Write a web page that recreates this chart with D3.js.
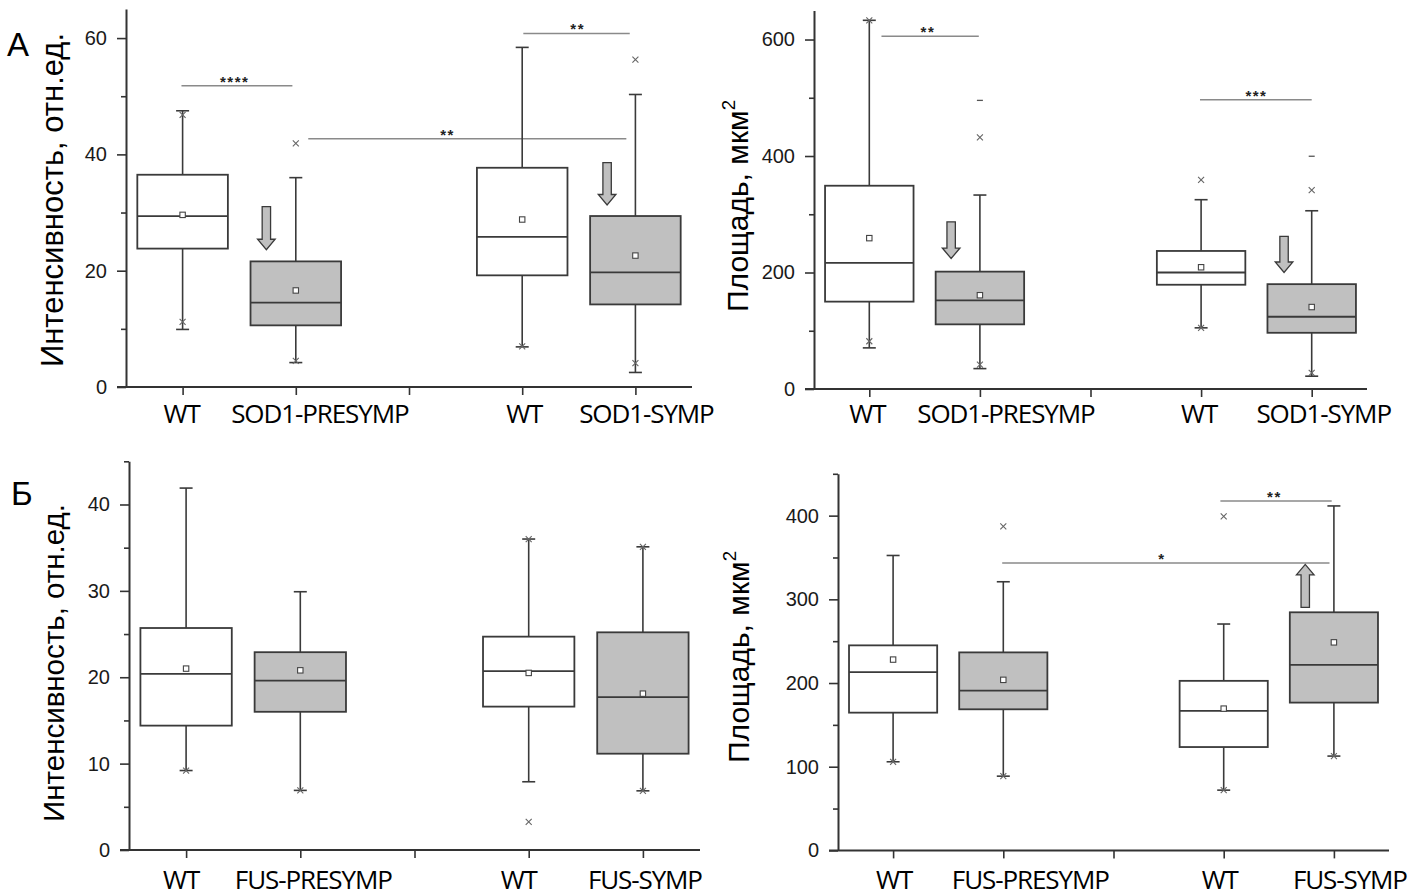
<!DOCTYPE html>
<html><head><meta charset="utf-8">
<script src="https://cdn.jsdelivr.net/npm/d3@7"></script>
<style>body{margin:0;background:#fff;} svg{display:block}</style>
</head><body>
<svg id="chart" width="1423" height="896"></svg>
<script>
// ---------- data ----------
const categoriesSOD = ["WT", "SOD1-PRESYMP", "WT", "SOD1-SYMP"];
const categoriesFUS = ["WT", "FUS-PRESYMP", "WT", "FUS-SYMP"];
const groupPositions = [1, 2, 4, 5];
const groupFill = ["wt", "mut", "wt", "mut"];

// A left: intensity, SOD1
const sodIntQ1 = [23.8, 10.6, 19.2, 14.2];
const sodIntMedian = [29.4, 14.5, 25.8, 19.7];
const sodIntQ3 = [36.5, 21.6, 37.7, 29.4];
const sodIntLow = [9.9, 4.2, 6.9, 2.5];
const sodIntHigh = [47.5, 36.0, 58.4, 50.3];
const sodIntMean = [29.6, 16.6, 28.8, 22.6];
const sodIntCrosses = [[46.8, 11.2], [41.9, 4.5], [7.0], [56.3, 4.1]];
const sodIntDashes = [[], [], [], []];
const sodIntTicks = [0, 20, 40, 60];
const sodIntMinor = [10, 30, 50];
const sodIntMax = 65;
const sodIntSig = [
  {from: 0.99, to: 1.97, value: 51.8, text: "****", at: 1.46},
  {from: 2.11, to: 4.92, value: 42.7, text: "**", at: 3.34},
  {from: 4.01, to: 4.95, value: 60.8, text: "**", at: 4.49}
];
const sodIntArrows = [
  {pos: 1.74, from: 31.0, to: 23.6},
  {pos: 4.75, from: 38.6, to: 31.3}
];

// A right: area, SOD1
const sodAreaQ1 = [150, 111, 179, 96.5];
const sodAreaMedian = [216.5, 152, 200, 124];
const sodAreaQ3 = [349, 201.5, 237, 180];
const sodAreaLow = [70.6, 35, 105, 22];
const sodAreaHigh = [633, 333, 325, 306];
const sodAreaMean = [259, 161, 209, 140.7];
const sodAreaCrosses = [[633, 82], [432, 42], [359, 105], [341.6, 27.6]];
const sodAreaDashes = [[], [495.5], [], [399.6]];
const sodAreaTicks = [0, 200, 400, 600];
const sodAreaMinor = [100, 300, 500];
const sodAreaMax = 650;
const sodAreaSig = [
  {from: 1.11, to: 1.99, value: 605.8, text: "**", at: 1.53},
  {from: 3.99, to: 5.0, value: 496.7, text: "***", at: 4.5}
];
const sodAreaArrows = [
  {pos: 1.74, from: 287, to: 224},
  {pos: 4.75, from: 262, to: 200}
];

// Б left: intensity, FUS
const fusIntQ1 = [14.4, 16.0, 16.6, 11.15];
const fusIntMedian = [20.4, 19.6, 20.7, 17.7];
const fusIntQ3 = [25.7, 22.9, 24.7, 25.2];
const fusIntLow = [9.2, 6.9, 7.9, 6.85];
const fusIntHigh = [41.9, 29.9, 36.0, 35.1];
const fusIntMean = [21.0, 20.8, 20.5, 18.1];
const fusIntCrosses = [[9.2], [6.9], [36.0, 3.25], [35.1, 6.85]];
const fusIntDashes = [[], [], [], []];
const fusIntTicks = [0, 10, 20, 30, 40];
const fusIntMinor = [5, 15, 25, 35, 45];
const fusIntMax = 45;
const fusIntSig = [];
const fusIntArrows = [];

// Б right: area, FUS
const fusAreaQ1 = [164.6, 168.6, 123.5, 176.6];
const fusAreaMedian = [213, 191, 166.6, 221.8];
const fusAreaQ3 = [245, 236.6, 202.6, 284.5];
const fusAreaLow = [105.9, 88.7, 72, 112.7];
const fusAreaHigh = [352.4, 321, 270.5, 411.6];
const fusAreaMean = [228, 203.8, 169.4, 248.6];
const fusAreaCrosses = [[105.9], [387.2, 88.7], [399.2, 72], [112.7]];
const fusAreaDashes = [[], [], [], []];
const fusAreaTicks = [0, 100, 200, 300, 400];
const fusAreaMinor = [50, 150, 250, 350, 450];
const fusAreaMax = 450;
const fusAreaSig = [
  {from: 3.97, to: 4.98, value: 417.6, text: "**", at: 4.46},
  {from: 1.99, to: 4.96, value: 343.3, text: "*", at: 3.44}
];
const fusAreaArrows = [
  {pos: 4.74, from: 290.5, to: 341.7}
];

// ---------- layout / style ----------
const svg = d3.select("#chart");
const AXIS = "#333";
const BOXSTROKE = "#3a3a3a";
const GRAY = "#c0c0c0";

const panels = [
  {
    letter: "А", letterX: 7, letterY: 56,
    px: {x0: 126, x1: 692, yb: 387, yt: 9},
    cats: categoriesSOD, labelDx: [-1, 24, 2, 11], labelY: 423,
    q1: sodIntQ1, med: sodIntMedian, q3: sodIntQ3, lo: sodIntLow, hi: sodIntHigh,
    mean: sodIntMean, crosses: sodIntCrosses, dashes: sodIntDashes,
    ticks: sodIntTicks, minor: sodIntMinor, max: sodIntMax,
    sig: sodIntSig, arrows: sodIntArrows,
    yLabel: "Интенсивность, отн.ед.", sup: null, yLabelX: 63, yLabelY: 200, yLabelSize: 31
  },
  {
    px: {x0: 814, x1: 1367, yb: 389, yt: 10.4},
    cats: categoriesSOD, labelDx: [-2, 26, -2, 12], labelY: 423,
    q1: sodAreaQ1, med: sodAreaMedian, q3: sodAreaQ3, lo: sodAreaLow, hi: sodAreaHigh,
    mean: sodAreaMean, crosses: sodAreaCrosses, dashes: sodAreaDashes,
    ticks: sodAreaTicks, minor: sodAreaMinor, max: sodAreaMax,
    sig: sodAreaSig, arrows: sodAreaArrows,
    yLabel: "Площадь, мкм", sup: "2", yLabelX: 748, yLabelY: 206, yLabelSize: 30
  },
  {
    letter: "Б", letterX: 11, letterY: 505,
    px: {x0: 129, x1: 700, yb: 850, yt: 461.3},
    cats: categoriesFUS, labelDx: [-5, 13, -10, 2], labelY: 889,
    q1: fusIntQ1, med: fusIntMedian, q3: fusIntQ3, lo: fusIntLow, hi: fusIntHigh,
    mean: fusIntMean, crosses: fusIntCrosses, dashes: fusIntDashes,
    ticks: fusIntTicks, minor: fusIntMinor, max: fusIntMax,
    sig: fusIntSig, arrows: fusIntArrows,
    yLabel: "Интенсивность, отн.ед.", sup: null, yLabelX: 64, yLabelY: 663, yLabelSize: 29.5
  },
  {
    px: {x0: 838, x1: 1389, yb: 850.4, yt: 473.8},
    cats: categoriesFUS, labelDx: [1, 27, -4, 16], labelY: 889,
    q1: fusAreaQ1, med: fusAreaMedian, q3: fusAreaQ3, lo: fusAreaLow, hi: fusAreaHigh,
    mean: fusAreaMean, crosses: fusAreaCrosses, dashes: fusAreaDashes,
    ticks: fusAreaTicks, minor: fusAreaMinor, max: fusAreaMax,
    sig: fusAreaSig, arrows: fusAreaArrows,
    yLabel: "Площадь, мкм", sup: "2", yLabelX: 749, yLabelY: 657, yLabelSize: 30
  }
];

function drawPanel(p) {
  const x = d3.scaleLinear().domain([0.5, 5.5]).range([p.px.x0, p.px.x1]);
  const y = d3.scaleLinear().domain([0, p.max]).range([p.px.yb, p.px.yt]);
  const g = svg.append("g");
  const boxW = (x(1.4) - x(1));
  const capW = 6.5;

  // y axis major
  const ya = g.append("g").attr("transform", `translate(${x(0.5)},0)`)
    .call(d3.axisLeft(y).tickValues(p.ticks).tickSize(9).tickSizeOuter(0).tickPadding(10).tickFormat(d3.format("d")));
  ya.select(".domain").attr("stroke", AXIS).attr("stroke-width", 2);
  ya.selectAll(".tick line").attr("stroke", AXIS).attr("stroke-width", 1.6);
  ya.selectAll(".tick text").attr("font-family", "Liberation Sans, Arial, sans-serif")
    .attr("font-size", 20).attr("fill", "#1a1a1a");
  // minor ticks
  const ym = g.append("g").attr("transform", `translate(${x(0.5)},0)`)
    .call(d3.axisLeft(y).tickValues(p.minor).tickSize(5).tickSizeOuter(0).tickFormat(""));
  ym.select(".domain").remove();
  ym.selectAll(".tick line").attr("stroke", AXIS).attr("stroke-width", 1.6);

  // x axis
  const xa = g.append("g").attr("transform", `translate(0,${y(0)})`)
    .call(d3.axisBottom(x).tickValues([1, 2, 3, 4, 5]).tickSize(8).tickSizeOuter(0).tickFormat(""));
  xa.select(".domain").remove();
  xa.selectAll(".tick line").attr("stroke", AXIS).attr("stroke-width", 1.6);
  g.append("line").attr("x1", x(0.5) - 9).attr("x2", x(5.5))
    .attr("y1", y(0)).attr("y2", y(0)).attr("stroke", AXIS).attr("stroke-width", 2);

  // category labels
  g.selectAll("text.cat").data(p.cats).join("text").attr("class", "cat")
    .attr("x", (d, i) => x(groupPositions[i]) + p.labelDx[i])
    .attr("y", p.labelY)
    .attr("text-anchor", "middle")
    .attr("font-family", "Open Sans, sans-serif")
    .attr("font-size", 26)
    .attr("font-weight", 500)
    .attr("letter-spacing", -1.1)
    .attr("fill", "#000")
    .text(d => d);

  // significance lines
  p.sig.forEach(s => {
    g.append("line").attr("x1", x(s.from)).attr("x2", x(s.to))
      .attr("y1", y(s.value)).attr("y2", y(s.value))
      .attr("stroke", "#8a8a8a").attr("stroke-width", 1.5);
    g.append("text").attr("x", x(s.at)).attr("y", y(s.value) + 1)
      .attr("text-anchor", "middle").attr("font-family", "Liberation Sans, Arial, sans-serif")
      .attr("font-weight", "bold").attr("font-size", 15).attr("letter-spacing", 1.5)
      .attr("fill", "#222").text(s.text);
  });

  // boxes
  groupPositions.forEach((pos, i) => {
    const cx = x(pos);
    g.append("line").attr("x1", cx).attr("x2", cx).attr("y1", y(p.hi[i])).attr("y2", y(p.q3[i]))
      .attr("stroke", BOXSTROKE).attr("stroke-width", 1.6);
    g.append("line").attr("x1", cx).attr("x2", cx).attr("y1", y(p.q1[i])).attr("y2", y(p.lo[i]))
      .attr("stroke", BOXSTROKE).attr("stroke-width", 1.6);
    [p.hi[i], p.lo[i]].forEach(v => {
      g.append("line").attr("x1", cx - capW).attr("x2", cx + capW).attr("y1", y(v)).attr("y2", y(v))
        .attr("stroke", BOXSTROKE).attr("stroke-width", 1.6);
    });
    g.append("rect").attr("x", cx - boxW).attr("width", 2 * boxW)
      .attr("y", y(p.q3[i])).attr("height", y(p.q1[i]) - y(p.q3[i]))
      .attr("fill", groupFill[i] === "wt" ? "#fff" : GRAY)
      .attr("stroke", BOXSTROKE).attr("stroke-width", 1.8);
    g.append("line").attr("x1", cx - boxW).attr("x2", cx + boxW)
      .attr("y1", y(p.med[i])).attr("y2", y(p.med[i]))
      .attr("stroke", BOXSTROKE).attr("stroke-width", 1.8);
    g.append("rect").attr("x", cx - 2.7).attr("y", y(p.mean[i]) - 2.7)
      .attr("width", 5.4).attr("height", 5.4)
      .attr("fill", "#fff").attr("stroke", "#444").attr("stroke-width", 1.1);
    p.crosses[i].forEach(v => {
      const yy = y(v), r = 3;
      g.append("path").attr("d", `M${cx - r},${yy - r}L${cx + r},${yy + r}M${cx - r},${yy + r}L${cx + r},${yy - r}`)
        .attr("stroke", "#666").attr("stroke-width", 1.1).attr("fill", "none");
    });
    p.dashes[i].forEach(v => {
      g.append("line").attr("x1", cx - 3).attr("x2", cx + 3).attr("y1", y(v)).attr("y2", y(v))
        .attr("stroke", "#555").attr("stroke-width", 1.3);
    });
  });

  // arrows
  p.arrows.forEach(a => {
    const ax = x(a.pos), y0 = y(a.from), y1 = y(a.to);
    const dir = y1 > y0 ? 1 : -1;
    const sw = 4.2, hw = 8.8, hl = 10.5;
    const yh = y1 - dir * hl;
    const d = `M${ax - sw},${y0}L${ax + sw},${y0}L${ax + sw},${yh}L${ax + hw},${yh}L${ax},${y1}L${ax - hw},${yh}L${ax - sw},${yh}Z`;
    g.append("path").attr("d", d).attr("fill", GRAY).attr("stroke", "#3a3a3a").attr("stroke-width", 1.3);
  });

  // y label
  const t = g.append("text")
    .attr("transform", `translate(${p.yLabelX},${p.yLabelY}) rotate(-90)`)
    .attr("text-anchor", "middle")
    .attr("font-family", "Liberation Sans, Arial, sans-serif")
    .attr("font-size", p.yLabelSize).attr("fill", "#000");
  t.append("tspan").text(p.yLabel);
  if (p.sup) {
    t.append("tspan").attr("font-size", p.yLabelSize * 0.62).attr("dy", -p.yLabelSize * 0.42).text(p.sup);
  }

  if (p.letter) {
    svg.append("text").attr("x", p.letterX).attr("y", p.letterY)
      .attr("font-family", "Liberation Sans, Arial, sans-serif").attr("font-size", 33)
      .attr("fill", "#000").text(p.letter);
  }
}

panels.forEach(drawPanel);
</script>
</body></html>
